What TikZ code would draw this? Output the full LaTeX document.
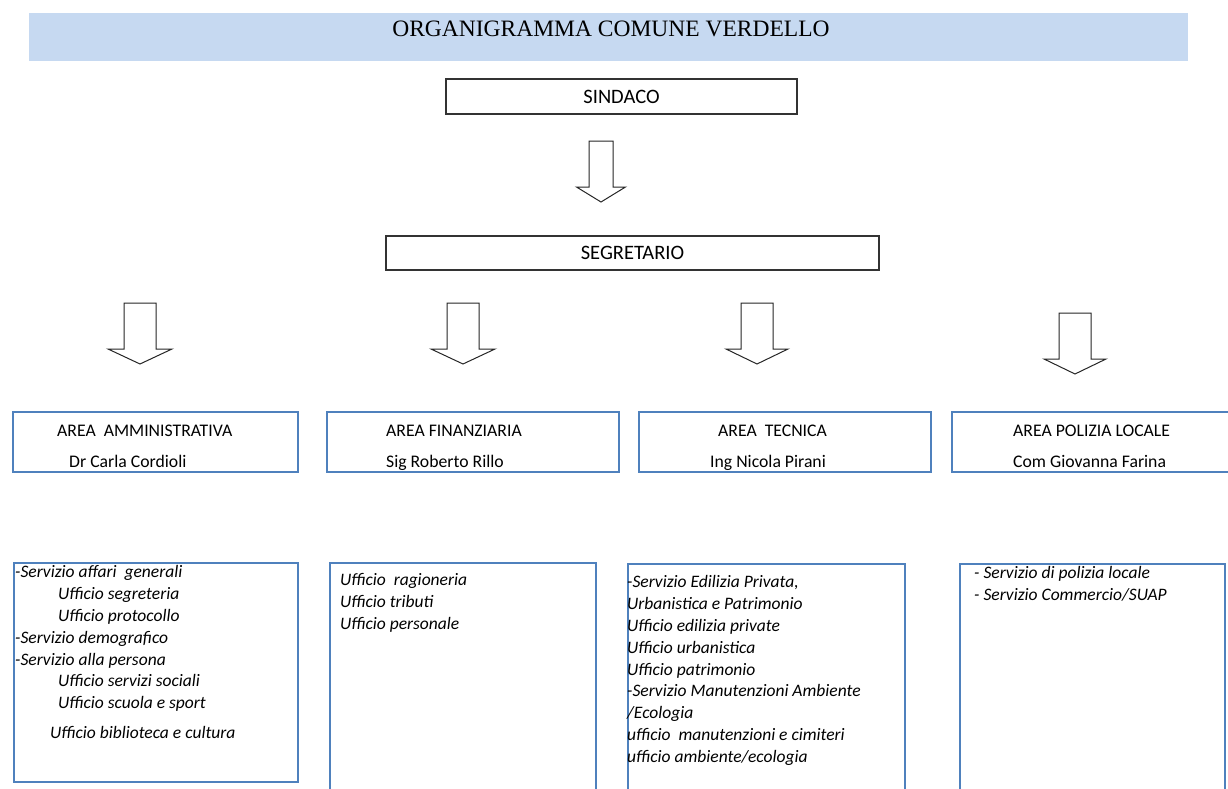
\documentclass[tikz,border=0pt]{standalone}
\usepackage{fontspec}
\setmainfont{Carlito}
\newfontfamily\serifhead{Liberation Serif}
\definecolor{bandblue}{HTML}{C6D9F1}
\definecolor{areablue}{HTML}{4F81BD}

\begin{document}
\begin{tikzpicture}[x=1pt, y=-1pt,
		topbox/.style = {draw=black!80, line width=1.1pt, inner sep=0pt, font=\fontsize{20.5}{24}\selectfont},
		areabox/.style = {draw=areablue, line width=2.4pt, inner sep=0pt, anchor=north west},
		areatext/.style = {anchor=base west, inner sep=0pt, font=\fontsize{17.7}{21}\selectfont},
		listtext/.style = {anchor=north west, inner sep=0pt, align=left, font=\fontsize{17.5}{21.8}\selectfont\itshape}]

				\useasboundingbox (0,0) rectangle (1228,789);

				\fill[bandblue] (29,13) rectangle (1188,61);
				\node[inner sep=0pt, font=\serifhead\fontsize{23.5}{28}\selectfont] (title) at (611,29) {ORGANIGRAMMA COMUNE VERDELLO};

				\node[topbox, minimum width=351, minimum height=35] (sindaco) at (621.5,96.5) {SINDACO};
				\node[topbox, minimum width=493, minimum height=34] (segretario) at (632.5,253) {SEGRETARIO};

				% frecce
				\foreach \cx/\ty/\sw/\hw in {601/141/12/24.5, 140/303/16/32, 463/303/16/32, 757/303/16/31, 1075/313/16/31}
				{
					\draw[draw=black!85, fill=white, line width=1pt] (\cx-\sw,\ty) -- (\cx+\sw,\ty) -- (\cx+\sw,\ty+46)
						-- (\cx+\hw,\ty+46) -- (\cx,\ty+61) -- (\cx-\hw,\ty+46) -- (\cx-\sw,\ty+46) -- cycle;
				}

				% aree
				\node[areabox, minimum width=285, minimum height=60] (amm) at (12,411) {};
				\node[areabox, minimum width=292, minimum height=60] (fin) at (326,411) {};
				\node[areabox, minimum width=292, minimum height=60] (tec) at (638,411) {};
				\node[areabox, minimum width=285, minimum height=60] (pol) at (951,411) {};

				\node[areatext] (ammtit) at (57,436) {AREA\ \ AMMINISTRATIVA};
				\node[areatext] (ammdir) at (69,467) {Dr Carla Cordioli};
				\node[areatext] (fintit) at (386,436) {AREA FINANZIARIA};
				\node[areatext] (findir) at (386,467) {Sig Roberto Rillo};
				\node[areatext] (tectit) at (718,436) {AREA\ \ TECNICA};
				\node[areatext] (tecdir) at (710,467) {Ing Nicola Pirani};
				\node[areatext] (poltit) at (1013,436) {AREA POLIZIA LOCALE};
				\node[areatext] (poldir) at (1013,467) {Com Giovanna Farina};

				% uffici
				\node[areabox, minimum width=284, minimum height=219] (ammbox) at (13,562) {};
				\node[areabox, minimum width=266, minimum height=240] (finbox) at (329,562) {};
				\node[areabox, minimum width=277, minimum height=240] (tecbox) at (627,563) {};
				\node[areabox, minimum width=265, minimum height=240] (polbox) at (959,563) {};

				\node[listtext] (ammlist) at (15,565.6) {-Servizio affari\ \ generali\\
					\hspace*{43pt}Ufficio segreteria\\
					\hspace*{43pt}Ufficio protocollo\\
					-Servizio demografico\\
					-Servizio alla persona\\
					\hspace*{43pt}Ufficio servizi sociali\\
					\hspace*{43pt}Ufficio scuola e sport\\[8pt]
					\hspace*{35pt}Ufficio biblioteca e cultura};
				\node[listtext] (finlist) at (340,573.6) {Ufficio\ \ ragioneria\\
					Ufficio tributi\\
					Ufficio personale};
				\node[listtext] (teclist) at (627,575.6) {-Servizio Edilizia Privata,\\
					Urbanistica e Patrimonio\\
					Ufficio edilizia private\\
					Ufficio urbanistica\\
					Ufficio patrimonio\\
					-Servizio Manutenzioni Ambiente\\
					/Ecologia\\
					ufficio\ \ manutenzioni e cimiteri\\
					ufficio ambiente/ecologia};
				\node[listtext] (pollist) at (974,566) {- Servizio di polizia locale\\
					- Servizio Commercio/SUAP};
		\end{tikzpicture}
\end{document}
